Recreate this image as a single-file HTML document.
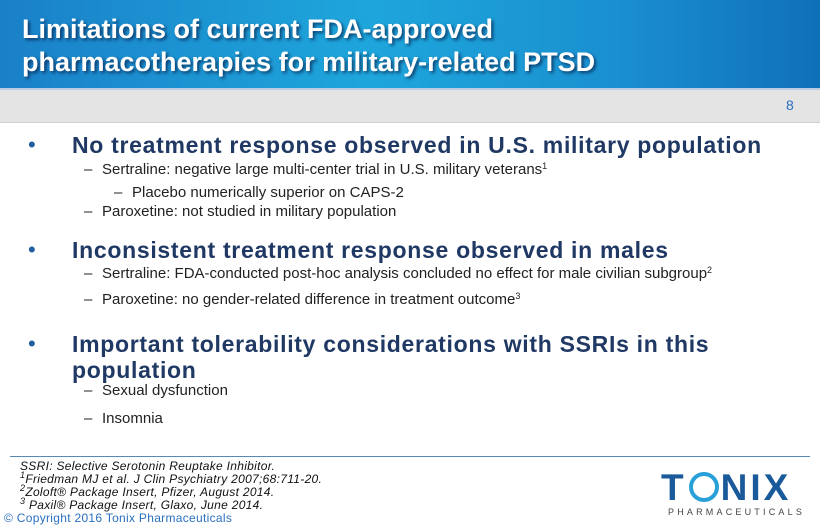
<!DOCTYPE html>
<html><head><meta charset="utf-8"><style>
body{margin:0;width:820px;height:525px;overflow:hidden;background:#fff;font-family:"Liberation Sans",sans-serif;position:relative}
.a{position:absolute;white-space:nowrap}
.h{font-weight:bold;font-size:23px;letter-spacing:0.7px;color:#1f3864;left:72px}
.b{font-size:22px;color:#1f5fa0;left:28px}
.s{font-size:15px;color:#222;left:102px}
.d{font-size:15px;color:#222;left:84px}
.f{font-style:italic;font-size:12px;letter-spacing:0.3px;color:#111;left:20px}
sup{font-size:9px;position:relative;top:-5px;vertical-align:baseline;line-height:0}
</style></head><body>
<div class="a" style="left:0;top:0;width:820px;height:88px;background:linear-gradient(90deg,#1a80c8 0%,#1ea6dc 45%,#1a90d0 75%,#1070b8 100%)"></div>
<div class="a" style="left:22px;top:13px;font-weight:bold;font-size:27px;line-height:33px;color:#fff;text-shadow:2px 2px 3px rgba(0,0,40,.6)">Limitations of current FDA-approved<br>pharmacotherapies for military-related PTSD</div>
<div class="a" style="left:0;top:88px;width:820px;height:32px;background:#e4e4e4;border-top:2px solid #b8cbe0;border-bottom:1px solid #d0d0d0"></div>
<div class="a" style="left:786px;top:97px;font-size:14px;color:#2a6fc0">8</div>

<div class="a b" style="top:132px">•</div>
<div class="a h" style="top:132px">No treatment response observed in U.S. military population</div>
<div class="a d" style="top:161px">–</div><div class="a s" style="top:161px">Sertraline: negative large multi-center trial in U.S. military veterans<sup>1</sup></div>
<div class="a d" style="left:114px;top:184px">–</div><div class="a s" style="left:132px;top:184px">Placebo numerically superior on CAPS-2</div>
<div class="a d" style="top:203px">–</div><div class="a s" style="top:203px">Paroxetine: not studied in military population</div>

<div class="a b" style="top:237px">•</div>
<div class="a h" style="top:237px">Inconsistent treatment response observed in males</div>
<div class="a d" style="top:265px">–</div><div class="a s" style="top:265px">Sertraline: FDA-conducted post-hoc analysis concluded no effect for male civilian subgroup<sup>2</sup></div>
<div class="a d" style="top:291px">–</div><div class="a s" style="top:291px">Paroxetine: no gender-related difference in treatment outcome<sup>3</sup></div>

<div class="a b" style="top:331px">•</div>
<div class="a h" style="top:331px;line-height:26px">Important tolerability considerations with SSRIs in this<br>population</div>
<div class="a d" style="top:382px">–</div><div class="a s" style="top:382px">Sexual dysfunction</div>
<div class="a d" style="top:410px">–</div><div class="a s" style="top:410px">Insomnia</div>

<div class="a" style="left:10px;top:456px;width:800px;height:1px;background:#5a8ab0"></div>
<div class="a f" style="top:460px;line-height:13px">SSRI: Selective Serotonin Reuptake Inhibitor.<br><sup>1</sup>Friedman MJ et al. J Clin Psychiatry 2007;68:711-20.<br><sup>2</sup>Zoloft® Package Insert, Pfizer, August 2014.<br><sup>3</sup> Paxil® Package Insert, Glaxo, June 2014.</div>
<div class="a" style="left:4px;top:511px;font-size:12px;letter-spacing:0.3px;color:#2a6fc0">© Copyright 2016 Tonix Pharmaceuticals</div>
<div class="a" style="left:661px;top:470px;font-weight:bold;font-size:37px;color:#1a5a9a;letter-spacing:3px;line-height:36px">T<span style="display:inline-block;width:30px;height:30px;border:4px solid #2aa0d8;border-radius:50%;box-sizing:border-box;vertical-align:-2px;margin:0 2px"></span>NIX</div>
<div class="a" style="left:668px;top:507px;font-size:9px;letter-spacing:3.2px;color:#444">PHARMACEUTICALS</div>
</body></html>
